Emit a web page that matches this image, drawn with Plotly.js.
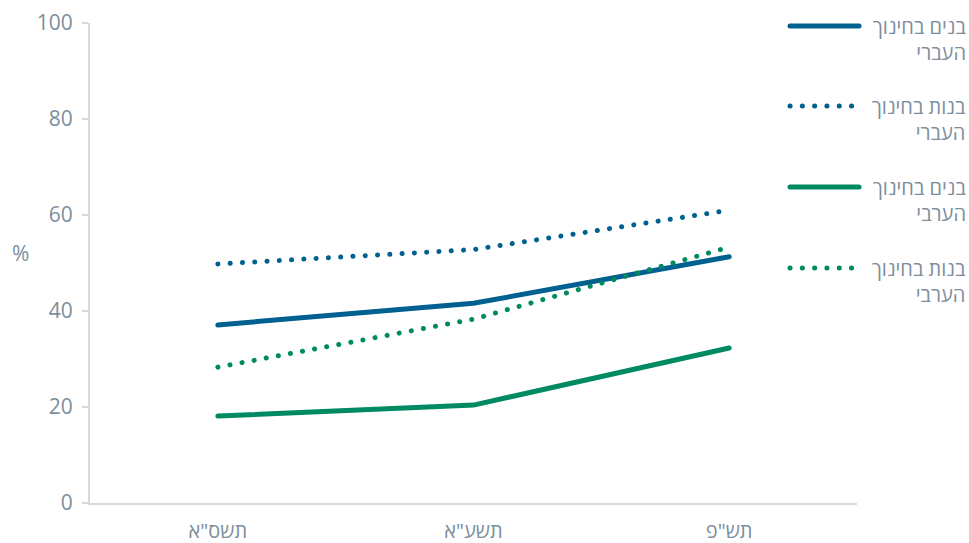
<!DOCTYPE html>
<html><head><meta charset="utf-8">
<script src="https://cdn.plot.ly/plotly-3.0.1.min.js"></script>
<style>
html,body{margin:0;padding:0;background:#fff;}
#chart{width:969px;height:543px;}
.scatterlayer path.js-line{stroke-linecap:round;}
.shapelayer path{stroke-linecap:round;}
</style>
</head><body>
<div id="chart"></div>
<script>
const years = ['תשס"א', 'תשע"א', 'תש"פ'];
const boysHebrew = [37.1, 41.6, 51.3];
const girlsHebrew = [49.8, 52.8, 61.0];
const boysArab = [18.1, 20.4, 32.3];
const girlsArab = [28.3, 38.3, 53.3];
const seriesNames = ['בנים בחינוך<br>העברי', 'בנות בחינוך<br>העברי', 'בנים בחינוך<br>הערבי', 'בנות בחינוך<br>הערבי'];
const yTicks = [0, 20, 40, 60, 80, 100];

const BLUE = '#00608f', GREEN = '#008a62', TXT = '#7d8e9c', AX = '#d9d9d9';
const DOT = '0.1px,12.2px';
const styles = [
  {color: BLUE, dash: 'solid'},
  {color: BLUE, dash: DOT},
  {color: GREEN, dash: 'solid'},
  {color: GREEN, dash: DOT}
];
const data = [boysHebrew, girlsHebrew, boysArab, girlsArab].map((y, i) => ({
  x: years, y: y, type: 'scatter', mode: 'lines', name: seriesNames[i],
  line: {color: styles[i].color, width: 5, dash: styles[i].dash},
  showlegend: false, hoverinfo: 'skip'
}));
const order = [0, 2, 1, 3];
const traces = order.map(i => data[i]);

const legendY = [26, 106, 187, 268];
const shapes = [], annotations = [];
legendY.forEach((py, i) => {
  const yp = (503 - py) / 480;
  shapes.push({type: 'line', xref: 'paper', yref: 'paper',
    x0: (790 - 90) / 767, x1: (859 - 90) / 767, y0: yp, y1: yp,
    line: {color: styles[i].color, width: 5, dash: styles[i].dash}});
  annotations.push({xref: 'paper', yref: 'paper', x: (968 - 90) / 767, y: (503 - py + 15) / 480,
    text: seriesNames[i], showarrow: false, xanchor: 'right', yanchor: 'top', align: 'right',
    font: {size: 20, color: TXT}});
});
annotations.push({xref: 'paper', yref: 'paper', x: (20 - 90) / 767, y: (503 - 253) / 480,
  text: '%', showarrow: false, xanchor: 'center', yanchor: 'middle', font: {size: 21, color: TXT}});

const layout = {
  width: 969, height: 543,
  margin: {l: 90, r: 112, t: 23, b: 40},
  paper_bgcolor: '#fff', plot_bgcolor: '#fff',
  font: {family: '"Open Sans", "Liberation Sans", sans-serif', color: TXT, size: 20},
  showlegend: false,
  xaxis: {type: 'category', range: [-0.5, 2.5], showgrid: false, zeroline: false,
    showline: true, linecolor: AX, linewidth: 2, ticks: '', ticklabelstandoff: 9,
    tickfont: {size: 20, color: TXT}, fixedrange: true},
  yaxis: {range: [0, 100], tickvals: yTicks, showgrid: false, zeroline: false,
    showline: true, linecolor: AX, linewidth: 2, ticks: 'outside', ticklen: 6, tickcolor: AX, tickwidth: 2,
    ticklabelstandoff: 5, tickfont: {size: 21, color: TXT}, fixedrange: true},
  shapes: shapes, annotations: annotations
};
Plotly.newPlot('chart', traces, layout, {displayModeBar: false, staticPlot: true});
</script>
</body></html>
